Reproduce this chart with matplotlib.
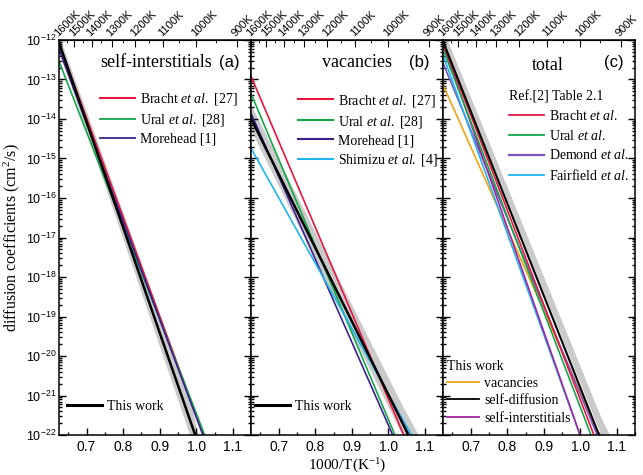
import numpy as np
import matplotlib
matplotlib.use("Agg")
import matplotlib.pyplot as plt
from matplotlib.lines import Line2D
from matplotlib.ticker import LogLocator, NullFormatter, MultipleLocator

plt.rcParams['font.family'] = 'Liberation Sans'
plt.rcParams['mathtext.fontset'] = 'custom'
plt.rcParams['mathtext.rm'] = 'Liberation Serif'
plt.rcParams['mathtext.it'] = 'Liberation Serif:italic'

SERIF = 'Liberation Serif'

# ---- data: lines as (1000/T, log10 D) endpoints
# panel (a) self-interstitials
a_x_work, a_d_work = [0.625, 0.997], [-12.08, -22]
a_x_bracht, a_d_bracht = [0.625, 1.020], [-12.10, -22]
a_x_ural, a_d_ural = [0.625, 1.023], [-12.55, -22]
a_x_more, a_d_more = [0.625, 1.018], [-12.25, -22]
a_band_x = [0.625, 0.982, 1.005]
a_band_hi = [-11.90, -21.05, -22]
a_band_lo = [-12.30, -22, -22.6]

# panel (b) vacancies
b_x_work, b_d_work = [0.625, 1.055], [-14.00, -22]
b_x_bracht, b_d_bracht = [0.625, 1.042], [-12.93, -22]
b_x_ural, b_d_ural = [0.625, 1.018], [-13.37, -22]
b_x_more, b_d_more = [0.625, 1.012], [-13.87, -22]
b_x_shim, b_d_shim = [0.625, 1.063], [-14.75, -22]
b_band_x = [0.625, 1.038, 1.082]
b_band_hi = [-13.65, -21.25, -22]
b_band_lo = [-14.30, -22, -22.8]

# panel (c) total
c_x_bracht, c_d_bracht = [0.625, 1.037], [-12.10, -22]
c_x_ural, c_d_ural = [0.625, 1.029], [-12.25, -22]
c_x_demond, c_d_demond = [0.625, 1.046], [-12.60, -22]
c_x_fair, c_d_fair = [0.625, 0.999], [-12.40, -22]
c_x_vac, c_d_vac = [0.625, 1.052], [-13.15, -22]
c_x_self, c_d_self = [0.625, 1.051], [-12.05, -22]
c_x_si, c_d_si = [0.625, 0.999], [-12.12, -22]
c_band_x = [0.625, 1.056, 1.080]
c_band_hi = [-11.75, -21.55, -22]
c_band_lo = [-12.05, -22, -22.5]

temps = [1600, 1500, 1400, 1300, 1200, 1100, 1000, 900]
temps_minor = [1550, 1450, 1350, 1250, 1150, 1050, 950]

a_labels = ['Bracht $\\mathit{et\\ al.}$ [27]', 'Ural $\\mathit{et\\ al.}$ [28]', 'Morehead [1]']
b_labels = a_labels + ['Shimizu $\\mathit{et\\ al.}$ [4]']
c_ref_labels = ['Bracht $\\mathit{et\\ al.}$', 'Ural $\\mathit{et\\ al.}$',
                'Demond $\\mathit{et\\ al.}$', 'Fairfield $\\mathit{et\\ al.}$']
c_work_labels = ['vacancies', 'self-diffusion', 'self-interstitials']

RED = '#e5173f'
GREEN = '#12a84a'
INDIGO = '#3d1f8f'
CYAN = '#1fb4ee'
PURPLE = '#7a52c2'
ORANGE = '#f5a312'
MAGENTA = '#a3239e'
GREY = '#cacaca'


def lg(v):
    return 10.0 ** np.asarray(v)


def h(c, lw=1.3):
    return Line2D([], [], color=c, lw=lw)


fig, axes = plt.subplots(1, 3, sharey=True, figsize=(6.43, 4.75), dpi=100)
fig.subplots_adjust(left=0.092, right=0.988, bottom=0.084, top=0.916, wspace=0)

for ax in axes:
    ax.set_yscale('log')
    ax.set_xlim(0.625, 1.15)
    ax.set_ylim(1e-22, 1e-12)
    ax.xaxis.set_minor_locator(MultipleLocator(0.05))
    ax.yaxis.set_major_locator(LogLocator(base=10, numticks=20))
    ax.yaxis.set_minor_locator(LogLocator(base=10, subs=np.arange(2, 10), numticks=20))
    ax.yaxis.set_minor_formatter(NullFormatter())
    ax.tick_params(which='both', direction='in', right=True, labelsize=10, width=1)
    ax.tick_params(axis='y', labelsize=9, pad=2)
    ax.tick_params(which='major', length=5)
    ax.tick_params(which='minor', length=2.5)
    ax.set_xticks([0.7, 0.8, 0.9, 1.0, 1.1])
    ax.set_xticklabels(['0.7', '0.8', '0.9', '1.0', '1.1'])
    for s in ax.spines.values():
        s.set_linewidth(1.1)
    top = ax.secondary_xaxis('top')
    top.set_xticks([1000.0 / t for t in temps])
    top.set_xticks([1000.0 / t for t in temps_minor], minor=True)
    top.set_xticklabels(['%dK' % t for t in temps], rotation=45,
                        ha='left', va='bottom', rotation_mode='anchor', fontsize=8)
    top.tick_params(which='both', direction='in', pad=1)
    top.tick_params(which='major', length=5)
    top.tick_params(which='minor', length=2.5)

axa, axb, axc = axes

# ---- panel a
axa.fill_between(a_band_x, lg(a_band_lo), lg(a_band_hi), color=GREY, lw=0)
axa.plot(a_x_bracht, lg(a_d_bracht), color=RED, lw=1.2)
axa.plot(a_x_ural, lg(a_d_ural), color=GREEN, lw=1.2)
axa.plot(a_x_more, lg(a_d_more), color=INDIGO, lw=1.2)
axa.plot(a_x_work, lg(a_d_work), color='black', lw=1.8)

# ---- panel b
axb.fill_between(b_band_x, lg(b_band_lo), lg(b_band_hi), color=GREY, lw=0)
axb.plot(b_x_bracht, lg(b_d_bracht), color=RED, lw=1.2)
axb.plot(b_x_ural, lg(b_d_ural), color=GREEN, lw=1.2)
axb.plot(b_x_more, lg(b_d_more), color=INDIGO, lw=1.2)
axb.plot(b_x_shim, lg(b_d_shim), color=CYAN, lw=1.2)
axb.plot(b_x_work, lg(b_d_work), color='black', lw=1.8)

# ---- panel c
axc.fill_between(c_band_x, lg(c_band_lo), lg(c_band_hi), color=GREY, lw=0)
axc.plot(c_x_vac, lg(c_d_vac), color=ORANGE, lw=1.2)
axc.plot(c_x_demond, lg(c_d_demond), color=PURPLE, lw=1.2)
axc.plot(c_x_fair, lg(c_d_fair), color=CYAN, lw=1.2)
axc.plot(c_x_si, lg(c_d_si), color=MAGENTA, lw=1.2)
axc.plot(c_x_ural, lg(c_d_ural), color=GREEN, lw=1.2)
axc.plot(c_x_bracht, lg(c_d_bracht), color=RED, lw=1.2)
axc.plot(c_x_self, lg(c_d_self), color='black', lw=1.5)

# titles
axa.text(0.215, 0.942, 'self-interstitials', transform=axa.transAxes,
         family=SERIF, fontsize=13, va='center')
axa.text(0.83, 0.942, '(a)', transform=axa.transAxes, fontsize=12, va='center')
axb.text(0.37, 0.942, 'vacancies', transform=axb.transAxes,
         family=SERIF, fontsize=13, va='center')
axb.text(0.82, 0.942, '(b)', transform=axb.transAxes, fontsize=12, va='center')
axc.text(0.46, 0.935, 'total', transform=axc.transAxes,
         family=SERIF, fontsize=13, va='center')
axc.text(0.835, 0.942, '(c)', transform=axc.transAxes, fontsize=12, va='center')

leg_kw = dict(frameon=False, loc='upper left', prop={'family': SERIF, 'size': 10},
              borderpad=0, borderaxespad=0, handletextpad=0.36,
              labelspacing=0.34, handlelength=2.5)

la = axa.legend([h(RED, 1.5), h(GREEN), h(INDIGO)], a_labels,
                bbox_to_anchor=(0.215, 0.87), **leg_kw)
axa.add_artist(la)
axa.legend([h('black', 2.2)], ['This work'], bbox_to_anchor=(0.04, 0.09), **leg_kw)

lb = axb.legend([h(RED, 1.5), h(GREEN, 1.5), h(INDIGO, 1.5), h(CYAN, 1.5)], b_labels,
                bbox_to_anchor=(0.245, 0.866), **leg_kw)
axb.add_artist(lb)
axb.legend([h('black', 2.2)], ['This work'], bbox_to_anchor=(0.02, 0.09), **leg_kw)

lc1 = axc.legend([h(RED), h(GREEN), h(PURPLE, 1.6), h(CYAN)], c_ref_labels,
                 bbox_to_anchor=(0.345, 0.872),
                 title='Ref.[2] Table 2.1', alignment='left',
                 title_fontproperties={'family': SERIF, 'size': 10},
                 **dict(leg_kw, labelspacing=0.4))
axc.add_artist(lc1)
axc.legend([h(ORANGE), h('black'), h(MAGENTA)], c_work_labels,
           bbox_to_anchor=(0.02, 0.19),
           title='This work', alignment='left',
           title_fontproperties={'family': SERIF, 'size': 10},
           **dict(leg_kw, labelspacing=0.3, handlelength=2.3))

axa.set_ylabel('diffusion coefficients (cm$^{\\mathdefault{2}}$/s)', family=SERIF,
               fontsize=11.5)
axa.yaxis.set_label_coords(-0.195, 0.5)
axb.set_xlabel('1000/T(K$^{\\mathdefault{-1}}$)', family=SERIF, fontsize=11, labelpad=2)

fig.savefig('out.png', dpi=100)
